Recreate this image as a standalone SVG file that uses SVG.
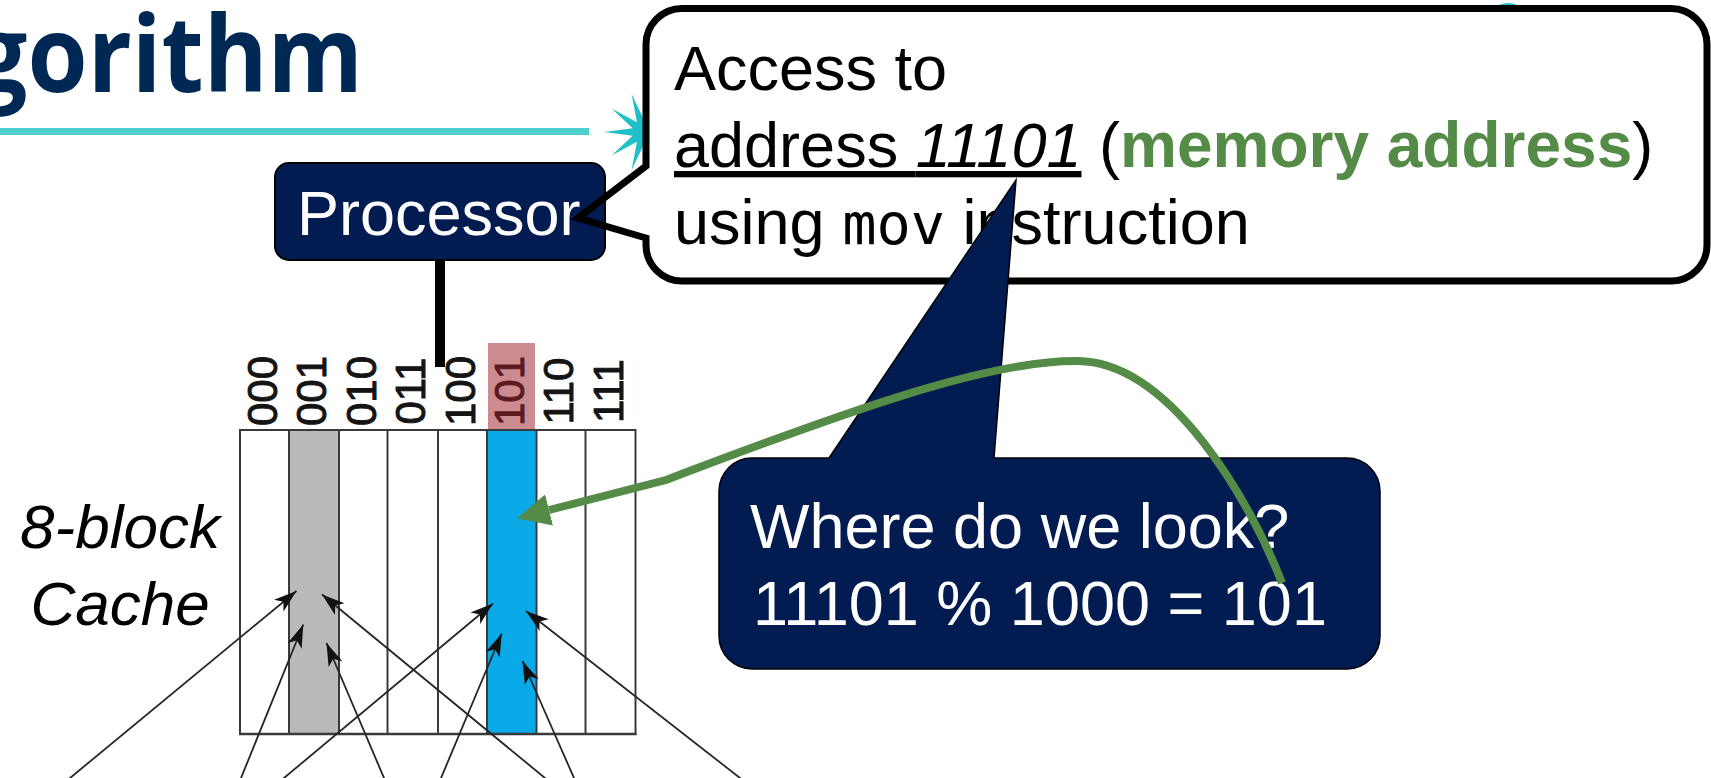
<svg xmlns="http://www.w3.org/2000/svg" width="1711" height="778" viewBox="0 0 1711 778">
  <style>
    .sans { font-family: "Liberation Sans", Arial, sans-serif; }
    .mono { font-family: "DejaVu Sans Mono", "Liberation Mono", monospace; }
    .title { font-family: "Open Sans", "Noto Sans", sans-serif; font-weight: 700; fill: #002855; }
    .navy { fill: #021C52; }
    .col-line { stroke: #3a3a3a; stroke-width: 2; }
    .slot-label { font-family: "Liberation Sans", Arial, sans-serif; font-size: 42px; fill: #141414; stroke: #141414; stroke-width: 0.9; text-anchor: middle; }
    .map-arrow { stroke: #262626; stroke-width: 1.8; fill: none; marker-end: url(#tip); }
    .callout-text { font-family: "Liberation Sans", Arial, sans-serif; font-size: 63px; fill: #000; }
    .green { fill: #548B46; }
    .spark { fill: #20C0C8; }
  </style>
  <defs>
    <marker id="tip" markerUnits="userSpaceOnUse" viewBox="-24 -9 25 18" markerWidth="25" markerHeight="18" refX="0" refY="0" orient="auto">
      <path d="M0,0 L-23,-7.5 L-17,0 L-23,7.5 Z" fill="#111111"/>
    </marker>
    <marker id="green-head" markerUnits="userSpaceOnUse" viewBox="0 -17 34 34" markerWidth="34" markerHeight="34" refX="0" refY="0" orient="auto">
      <path d="M0,-16 L33,0 L0,16 Z" fill="#548B46"/>
    </marker>
  </defs>

  <rect width="1711" height="778" fill="#ffffff"/>

  <!-- slide heading -->
  <g id="heading">
    <text class="title" transform="translate(363,92) scale(0.917,1)" x="0" y="0" font-size="106" text-anchor="end">gorithm</text>
    <rect x="0" y="128" width="589" height="7" fill="#4CD0D0"/>
    <polygon class="spark" points="684,132 655.4,135.7 676.4,155.5 651.1,141.7 656.4,170 644,144 631.6,170 636.9,141.7 611.6,155.5 632.6,135.7 604,132 632.6,128.3 611.6,108.5 636.9,122.3 631.6,94 644,120 656.4,94 651.1,122.3 676.4,108.5 655.4,128.3"/>
    <path class="spark" d="M1492,9 Q1508,-3 1524,9 Z"/>
  </g>

  <!-- 8-block direct-mapped cache -->
  <g id="cache">
    <text class="sans" x="120" y="548" font-size="62" font-style="italic" text-anchor="middle">8-block</text>
    <text class="sans" x="120" y="625" font-size="62" font-style="italic" text-anchor="middle">Cache</text>

    <rect x="488" y="343" width="47" height="87" fill="#CB8B90"/>
    <rect x="240" y="430" width="395.5" height="304" fill="#ffffff"/>
    <rect x="289" y="430" width="50" height="304" fill="#B9BABC"/>
    <rect x="487" y="430" width="49.5" height="304" fill="#0AAAE8"/>

    <g class="col-line">
      <line x1="289" y1="430" x2="289" y2="734"/>
      <line x1="339" y1="430" x2="339" y2="734"/>
      <line x1="387.5" y1="430" x2="387.5" y2="734"/>
      <line x1="438" y1="430" x2="438" y2="734"/>
      <line x1="487" y1="430" x2="487" y2="734"/>
      <line x1="536.5" y1="430" x2="536.5" y2="734"/>
      <line x1="585.5" y1="430" x2="585.5" y2="734"/>
    </g>
    <rect x="240" y="430" width="395.5" height="304" fill="none" stroke="#3a3a3a" stroke-width="2"/>
    <line x1="239" y1="734" x2="636.5" y2="734" stroke="#3a3a3a" stroke-width="2.6"/>

    <g id="slot-labels">
      <text class="slot-label" transform="translate(276.5,391) rotate(-90)">000</text>
      <text class="slot-label" transform="translate(326,391) rotate(-90)">001</text>
      <text class="slot-label" transform="translate(376,391) rotate(-90)">010</text>
      <text class="slot-label" transform="translate(425,391) rotate(-90)">011</text>
      <text class="slot-label" transform="translate(474.5,391) rotate(-90)">100</text>
      <text class="slot-label" transform="translate(523.5,391) rotate(-90)" style="fill:#5B1B1E;stroke:#5B1B1E">101</text>
      <text class="slot-label" transform="translate(573,391) rotate(-90)">110</text>
      <text class="slot-label" transform="translate(622.5,391) rotate(-90)">111</text>
    </g>

    <g id="mapping-arrows">
      <line class="map-arrow" x1="43.4" y1="800" x2="296.5" y2="591"/>
      <line class="map-arrow" x1="571.7" y1="800" x2="322" y2="594.5"/>
      <line class="map-arrow" x1="232.1" y1="800" x2="303.3" y2="624.5"/>
      <line class="map-arrow" x1="393.4" y1="800" x2="326.5" y2="643"/>
      <line class="map-arrow" x1="257.6" y1="800" x2="493" y2="603.5"/>
      <line class="map-arrow" x1="768.2" y1="800" x2="526" y2="611"/>
      <line class="map-arrow" x1="431.8" y1="800" x2="501.7" y2="633.5"/>
      <line class="map-arrow" x1="583.7" y1="800" x2="522.5" y2="661"/>
    </g>
  </g>

  <!-- processor to cache link -->
  <g id="connectors">
    <line x1="440" y1="258" x2="440" y2="367" stroke="#000" stroke-width="10"/>
  </g>

  <!-- speech bubble body (fill only, outline drawn later) -->
  <path id="access-fill" d="M682,8.5 H1671 A36 36 0 0 1 1707,44.5 V245 A36 36 0 0 1 1671,281 H682 A36 36 0 0 1 646,245 V238 L578,218 L646,166 V44.5 A36 36 0 0 1 682,8.5 Z" fill="#ffffff"/>

  <g id="processor">
    <rect class="navy" x="275" y="163" width="330" height="97" rx="14" stroke="#000" stroke-width="2"/>
    <text class="sans" x="297" y="235" font-size="63" fill="#ffffff">Processor</text>
  </g>

  <g id="access">
    <path d="M682,8.5 H1671 A36 36 0 0 1 1707,44.5 V245 A36 36 0 0 1 1671,281 H682 A36 36 0 0 1 646,245 V238 L578,218 L646,166 V44.5 A36 36 0 0 1 682,8.5 Z" fill="none" stroke="#000" stroke-width="7" stroke-linejoin="miter"/>
    <text class="callout-text" x="674" y="90">Access to</text>
    <text class="callout-text" x="674" y="167"><tspan text-decoration="underline">address <tspan font-style="italic">11101</tspan></tspan> (<tspan class="green" font-weight="bold" font-size="64">memory address</tspan>)</text>
    <text class="callout-text" x="674" y="244">using <tspan class="mono" font-size="57">mov</tspan> instruction</text>
  </g>

  <g id="lookup">
    <path class="navy" d="M752,458 H829 L1016,180 L994,458 H1347 A33 33 0 0 1 1380,491 V636 A33 33 0 0 1 1347,669 H752 A33 33 0 0 1 719,636 V491 A33 33 0 0 1 752,458 Z" stroke="#000" stroke-width="1.5"/>
    <text class="sans" x="750" y="548" font-size="63" fill="#ffffff">Where do we look?</text>
    <text class="sans" x="753" y="625" font-size="63" fill="#ffffff">11101 % 1000 = 101</text>
  </g>

  <g id="index-arrow">
    <path d="M1282,583 C1250,500 1170,362 1078,361 C990,360 850,410 666,480 L549,510" fill="none" stroke="#548B46" stroke-width="8" marker-end="url(#green-head)"/>
  </g>
</svg>
